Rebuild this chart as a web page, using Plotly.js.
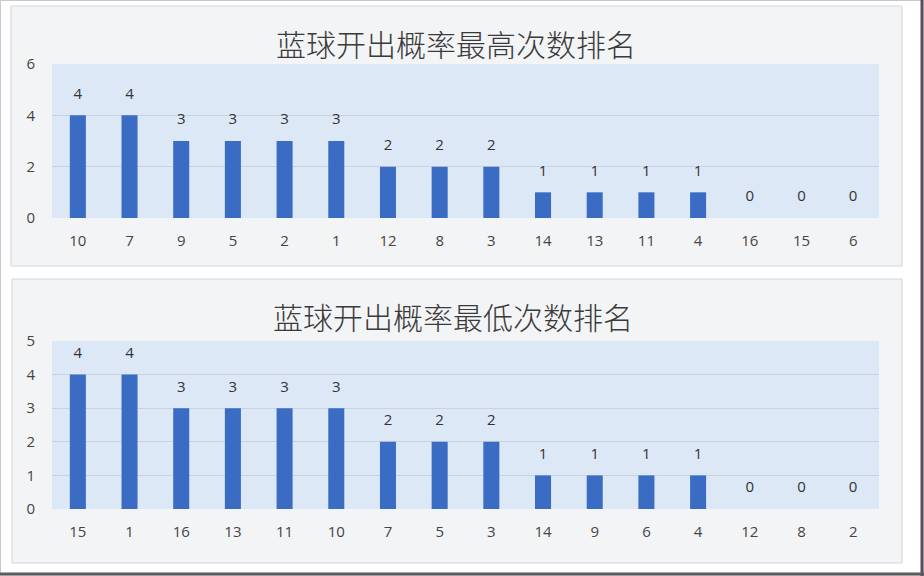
<!DOCTYPE html>
<html><head><meta charset="utf-8">
<script src="https://cdn.plot.ly/plotly-3.0.1.min.js"></script>
<style>html,body{margin:0;padding:0;background:#fff}#c{width:924px;height:576px}</style>
</head><body><div id="c"></div>
<script>
const titleTop = "蓝球开出概率最高次数排名";
const catsTop = ["10","7","9","5","2","1","12","8","3","14","13","11","4","16","15","6"];
const valsTop = [4,4,3,3,3,3,2,2,2,1,1,1,1,0,0,0];
const titleBottom = "蓝球开出概率最低次数排名";
const catsBottom = ["15","1","16","13","11","10","7","5","3","14","9","6","4","12","8","2"];
const valsBottom = [4,4,3,3,3,3,2,2,2,1,1,1,1,0,0,0];

const W = 924, H = 576;
const px = v => v / W, py = v => 1 - v / H;
const barColor = '#3b6cc4';
const tickFont = {family: 'Open Sans, DejaVu Sans, sans-serif', size: 15, color: '#444'};

function barTrace(cats, vals, xa, ya) {
  return {type: 'bar', x: cats, y: vals, xaxis: xa, yaxis: ya,
    marker: {color: barColor}, hoverinfo: 'x+y'};
}
function labelTrace(cats, vals, xa, ya) {
  return {type: 'scatter', mode: 'markers+text', x: cats, y: vals, xaxis: xa, yaxis: ya,
    marker: {size: 19, color: 'rgba(0,0,0,0)'}, text: vals.map(String), textposition: 'top center',
    textfont: {family: 'Open Sans, DejaVu Sans, sans-serif', size: 15, color: '#333'},
    cliponaxis: false, hoverinfo: 'skip'};
}

const plotL = 52, plotR = 879;
const p1T = 64, p1B = 218, p2T = 341, p2B = 509;

const axisCommon = {showline: false, zeroline: false, ticks: '', tickfont: tickFont, fixedrange: true};
const layout = {
  width: W, height: H, margin: {l: 0, r: 0, t: 0, b: 0},
  paper_bgcolor: '#ffffff', plot_bgcolor: 'rgba(0,0,0,0)',
  showlegend: false, bargap: 0.69,
  xaxis: Object.assign({}, axisCommon, {domain: [px(plotL), px(plotR)], anchor: 'y', type: 'category', range: [-0.5, catsTop.length - 0.5], showgrid: false, ticklabelstandoff: 12}),
  yaxis: Object.assign({}, axisCommon, {domain: [py(p1B), py(p1T)], anchor: 'x', range: [0, 6], dtick: 2, showgrid: true, gridcolor: '#c9d3df', gridwidth: 1, ticklabelstandoff: 16}),
  xaxis2: Object.assign({}, axisCommon, {domain: [px(plotL), px(plotR)], anchor: 'y2', type: 'category', range: [-0.5, catsBottom.length - 0.5], showgrid: false, ticklabelstandoff: 12}),
  yaxis2: Object.assign({}, axisCommon, {domain: [py(p2B), py(p2T)], anchor: 'x2', range: [0, 5], dtick: 1, showgrid: true, gridcolor: '#c9d3df', gridwidth: 1, ticklabelstandoff: 16}),
  shapes: [
    {type: 'rect', xref: 'paper', yref: 'paper', x0: px(0.5), x1: px(923), y0: py(575), y1: py(0.5), layer: 'below', line: {color: '#c8c8cc', width: 1}, fillcolor: '#ffffff'},
    {type: 'rect', xref: 'paper', yref: 'paper', x0: px(11), x1: px(902), y0: py(266), y1: py(6), layer: 'below', line: {color: '#d2d5da', width: 1}, fillcolor: '#f3f4f6'},
    {type: 'rect', xref: 'paper', yref: 'paper', x0: px(12), x1: px(902), y0: py(563), y1: py(279), layer: 'below', line: {color: '#d2d5da', width: 1}, fillcolor: '#f3f4f6'},
    {type: 'rect', xref: 'paper', yref: 'paper', x0: px(plotL), x1: px(plotR), y0: py(p1B), y1: py(p1T), layer: 'below', line: {width: 0}, fillcolor: '#dde8f6'},
    {type: 'rect', xref: 'paper', yref: 'paper', x0: px(plotL), x1: px(plotR), y0: py(p2B), y1: py(p2T), layer: 'below', line: {width: 0}, fillcolor: '#dde8f6'},
    {type: 'line', xref: 'paper', yref: 'paper', x0: px(922), x1: px(922), y0: py(576), y1: py(0), line: {color: '#5b4a5e', width: 3}},
    {type: 'line', xref: 'paper', yref: 'paper', x0: px(0), x1: px(924), y0: py(574), y1: py(574), line: {color: '#5b5b60', width: 3}}
  ],
  annotations: [
    {text: titleTop, xref: 'paper', yref: 'paper', x: px(456), y: py(43), xanchor: 'center', yanchor: 'middle', showarrow: false,
     font: {family: 'Noto Sans CJK SC, sans-serif', size: 30, weight: 300, color: '#3a3a3a'}},
    {text: titleBottom, xref: 'paper', yref: 'paper', x: px(453), y: py(316), xanchor: 'center', yanchor: 'middle', showarrow: false,
     font: {family: 'Noto Sans CJK SC, sans-serif', size: 30, weight: 300, color: '#3a3a3a'}}
  ]
};

Plotly.newPlot('c', [
  barTrace(catsTop, valsTop, 'x', 'y'), labelTrace(catsTop, valsTop, 'x', 'y'),
  barTrace(catsBottom, valsBottom, 'x2', 'y2'), labelTrace(catsBottom, valsBottom, 'x2', 'y2')
], layout, {staticPlot: true, displayModeBar: false});
</script></body></html>
